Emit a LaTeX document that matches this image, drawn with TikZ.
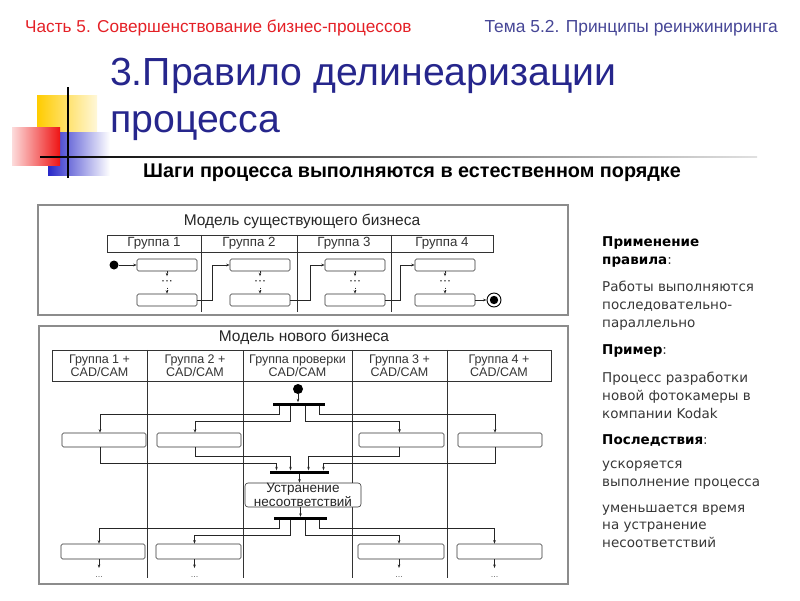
\documentclass[tikz,border=0pt]{standalone}
\usepackage{fontspec}
\setmainfont{Liberation Sans}
\newfontfamily\verd{DejaVu Sans}
\usetikzlibrary{arrows.meta,calc}
\definecolor{hred}{RGB}{228,32,38}
\definecolor{hblue}{RGB}{70,70,150}
\definecolor{tblue}{RGB}{38,38,140}
\definecolor{txtgray}{RGB}{55,55,55}
\definecolor{decoyel}{RGB}{255,204,0}
\definecolor{decored}{RGB}{238,20,20}
\definecolor{decoblu}{RGB}{40,40,200}
\begin{document}
\begin{tikzpicture}[x=1pt,y=-1pt,
  outerbox/.style={draw=black!45, line width=1.3pt, inner sep=0},
  hcell/.style={draw=black!80, line width=0.5pt, inner sep=0, font=\fontsize{13.3}{13}\selectfont, text=black!80},
  hcell2/.style={hcell, align=center, font=\fontsize{12.5}{10.5}\selectfont},
  act/.style={draw=black!80, line width=0.6pt, rounded corners=1.5pt, fill=white, inner sep=0},
  flow/.style={-{Stealth[length=3.5pt,width=2.6pt]}, line width=0.6pt, draw=black!85},
  dflow/.style={flow, dash pattern=on 1.5pt off 1.2pt},
  divl/.style={line width=0.6pt, draw=black!80},
  bar/.style={fill=black, inner sep=0, minimum height=3pt},
  sdot/.style={circle, fill=black, inner sep=0},
  ell/.style={font=\fontsize{9}{9}\selectfont, text=black!60, inner sep=0, text height=9pt, anchor=north},
  mdots/.style={font=\fontsize{12}{12}\selectfont, inner xsep=1pt, inner ysep=0pt, text height=5pt, text depth=1pt, minimum height=11pt},
  rt/.style={anchor=base west, inner sep=0, font=\verd\fontsize{13.5}{18}\selectfont, text=txtgray},
  rb/.style={anchor=base west, inner sep=0, font=\verd\bfseries\fontsize{13.5}{18}\selectfont, text=black},
]
\useasboundingbox (0,0) rectangle (800,600);

% headers
\node[anchor=base west, inner sep=0, text=hred, font=\fontsize{17.2}{18}\selectfont] (hdrL) at (25,32) {Часть 5. Совершенствование бизнес-процессов};
\node[anchor=base east, inner sep=0, text=hblue, font=\fontsize{17.4}{18}\selectfont] (hdrR) at (778,32) {Тема 5.2. Принципы реинжиниринга};

% decoration
\shade[left color=decoyel, right color=decoyel!15] (37,95) rectangle (97,134);
\shade[left color=decoblu, middle color=decoblu!85, right color=white] (48,132) rectangle (110,175);
\shade[left color=decored!15, right color=decored] (12,127) rectangle (60,165);
\fill[black] (67.3,87) rectangle (68.8,178);
\shade[left color=black, right color=black!12] (40,156.2) rectangle (757,157.8);

% title
\node[anchor=base west, inner sep=0, text=tblue, font=\fontsize{39.2}{47}\selectfont] (t1) at (110,85) {3.Правило делинеаризации};
\node[anchor=base west, inner sep=0, text=tblue, font=\fontsize{39.2}{47}\selectfont] (t2) at (110,132) {процесса};
\node[anchor=base west, inner sep=0, font=\bfseries\fontsize{19.8}{20}\selectfont] (sub) at (143,177) {Шаги процесса выполняются в естественном порядке};

% ---------- existing model
\node[outerbox, minimum width=530pt, minimum height=110pt] (M1) at (303,260) {};
\node[anchor=base, inner sep=0, font=\fontsize{15.5}{15}\selectfont, text=black!85] (M1t) at (302,225) {Модель существующего бизнеса};
\node[hcell, minimum width=94pt, minimum height=17pt] (h1) at (154,243.5) {Группа 1};
\node[hcell, minimum width=96pt, minimum height=17pt] (h2) at (249,243.5) {Группа 2};
\node[hcell, minimum width=94pt, minimum height=17pt] (h3) at (344,243.5) {Группа 3};
\node[hcell, minimum width=102pt, minimum height=17pt] (h4) at (442,243.5) {Группа 4};
\draw[divl] (h1.north east) -- ++(0,77);
\draw[divl] (h2.north east) -- ++(0,77);
\draw[divl] (h3.north east) -- ++(0,77);

\foreach \n/\x in {1/167,2/260,3/355,4/445}{
  \node[act, minimum width=60pt, minimum height=12pt] (u\n) at (\x,265) {};
  \node[act, minimum width=60pt, minimum height=12pt] (l\n) at (\x,300) {};
  \node[mdots] (d\n) at (\x,282) {···};
  \draw[dflow] (u\n) -- (d\n);
  \draw[dflow] (d\n) -- (l\n);
}
\node[sdot, minimum size=9pt] (s1) at (114,265) {};
\draw[flow] (s1) -- (u1);
\draw[flow] (l1.east) -- ++(15,0) |- (u2.west);
\draw[flow] (l2.east) -- ++(20,0) |- (u3.west);
\draw[flow] (l3.east) -- ++(15,0) |- (u4.west);
\node[circle, draw=black, line width=0.9pt, minimum size=14pt, inner sep=0,
  path picture={\fill[black] (path picture bounding box.center) circle (4.2pt);}] (en) at (494,300) {};
\draw[flow] (l4) -- (en);

% ---------- new model
\node[outerbox, minimum width=529pt, minimum height=258pt] (M2) at (303.5,455) {};
\node[anchor=base, inner sep=0, font=\fontsize{15.5}{15}\selectfont, text=black!85] (M2t) at (304,341) {Модель нового бизнеса};
\node[hcell2, minimum width=95pt, minimum height=31pt] (g1) at (99.5,365.5) {Группа 1 +\\CAD/CAM};
\node[hcell2, minimum width=96pt, minimum height=31pt] (g2) at (195,365.5) {Группа 2 +\\CAD/CAM};
\node[hcell2, minimum width=109pt, minimum height=31pt] (g3) at (297.5,365.5) {Группа проверки\\CAD/CAM};
\node[hcell2, minimum width=95pt, minimum height=31pt] (g4) at (399.5,365.5) {Группа 3 +\\CAD/CAM};
\node[hcell2, minimum width=104pt, minimum height=31pt] (g5) at (499,365.5) {Группа 4 +\\CAD/CAM};
\draw[divl] (g1.north east) -- ++(0,228);
\draw[divl] (g2.north east) -- ++(0,228);
\draw[divl] (g3.north east) -- ++(0,228);
\draw[divl] (g4.north east) -- ++(0,228);

\node[sdot, minimum size=10pt] (s2) at (298,389) {};
\node[bar, minimum width=52pt] (f1) at (299,404) {};
\draw[flow] (s2) -- (s2 |- f1.north);

\node[act, minimum width=84pt, minimum height=14pt] (a1) at (104,440) {};
\node[act, minimum width=84pt, minimum height=14pt] (a2) at (199,440) {};
\node[act, minimum width=85pt, minimum height=14pt] (a4) at (401.5,440) {};
\node[act, minimum width=84pt, minimum height=14pt] (a5) at (500,440) {};
\draw[flow] ([xshift=-20pt]f1.south) -- ++(0,9) -| ([xshift=-4pt]a1.north);
\draw[flow] ([xshift=-9pt]f1.south) -- ++(0,16) -| ([xshift=-4pt]a2.north);
\draw[flow] ([xshift=6pt]f1.south) -- ++(0,16) -| ([xshift=-2pt]a4.north);
\draw[flow] ([xshift=20pt]f1.south) -- ++(0,9) -| ([xshift=-5pt]a5.north);

\node[bar, minimum width=59pt] (j1) at (299.5,472) {};
\draw[flow] ([xshift=-4pt]a1.south) -- ++(0,16) -| ([xshift=-23pt]j1.north);
\draw[flow] ([xshift=-4pt]a2.south) -- ++(0,9) -| ([xshift=-9pt]j1.north);
\draw[flow] ([xshift=-2pt]a4.south) -- ++(0,9) -| ([xshift=9pt]j1.north);
\draw[flow] ([xshift=-5pt]a5.south) -- ++(0,16) -| ([xshift=24pt]j1.north);

\node[act, rounded corners=3pt, minimum width=116pt, minimum height=24pt, align=center,
  font=\fontsize{13.5}{11.5}\selectfont, text=black!85] (fix) at (303,495) {Устранение\\несоответствий};
\draw[flow] (j1.south) -- (j1.south |- fix.north);

\node[bar, minimum width=53pt] (f2) at (300.5,518.5) {};
\draw[flow] (f2.north |- fix.south) -- (f2.north);

\node[act, minimum width=84pt, minimum height=15pt] (b1) at (103,551.5) {};
\node[act, minimum width=85pt, minimum height=15pt] (b2) at (198.5,551.5) {};
\node[act, minimum width=86pt, minimum height=15pt] (b4) at (401,551.5) {};
\node[act, minimum width=85pt, minimum height=15pt] (b5) at (499.5,551.5) {};
\draw[flow] ([xshift=-21pt]f2.south) -- ++(0,8) -| ([xshift=-4pt]b1.north);
\draw[flow] ([xshift=-10pt]f2.south) -- ++(0,15) -| ([xshift=-4pt]b2.north);
\draw[flow] ([xshift=5pt]f2.south) -- ++(0,15) -| ([xshift=-2pt]b4.north);
\draw[flow] ([xshift=19pt]f2.south) -- ++(0,8) -| ([xshift=-5pt]b5.north);

\node[ell] (e1) at (99,568) {...};
\node[ell] (e2) at (194.5,568) {...};
\node[ell] (e4) at (399,568) {...};
\node[ell] (e5) at (494.5,568) {...};
\draw[flow] (b1.south -| e1.north) -- (e1.north);
\draw[flow] (b2.south -| e2.north) -- (e2.north);
\draw[flow] (b4.south -| e4.north) -- (e4.north);
\draw[flow] (b5.south -| e5.north) -- (e5.north);

% ---------- right text
\node[rb] (r1) at (602,246) {Применение};
\node[rb] (r2) at (602,264) {правила\mdseries\color{txtgray}:};
\node[rt] (r3) at (602,291) {Работы выполняются};
\node[rt] (r4) at (602,309) {последовательно-};
\node[rt] (r5) at (602,327) {параллельно};
\node[rb] (r6) at (602,354) {Пример\mdseries\color{txtgray}:};
\node[rt] (r7) at (602,382) {Процесс разработки};
\node[rt] (r8) at (602,400) {новой фотокамеры в};
\node[rt] (r9) at (602,418) {компании Kodak};
\node[rb] (r10) at (602,444) {Последствия\mdseries\color{txtgray}:};
\node[rt] (r11) at (602,468) {ускоряется};
\node[rt] (r12) at (602,486) {выполнение процесса};
\node[rt] (r13) at (602,512) {уменьшается время};
\node[rt] (r14) at (602,529) {на устранение};
\node[rt] (r15) at (602,547) {несоответствий};
\end{tikzpicture}
\end{document}
